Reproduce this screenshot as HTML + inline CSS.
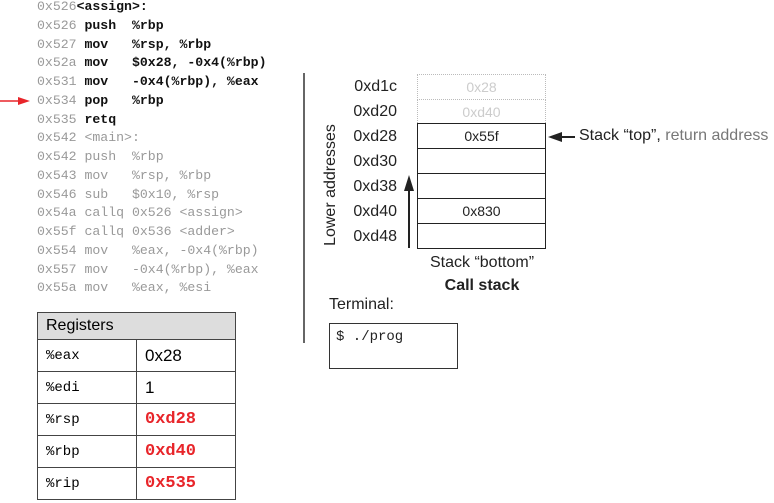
<!DOCTYPE html>
<html><head><meta charset="utf-8"><style>
body{margin:0;width:774px;height:503px;background:#fff;position:relative;overflow:hidden;font-family:"Liberation Sans",sans-serif}
.a{position:absolute;white-space:pre}
.code{font-family:"Liberation Mono",monospace;font-size:13.2px;color:#999;left:37px;line-height:18.75px;top:-2px}
.code b{color:#111}
.addr{position:absolute;right:377px;font-size:16px;color:#222;width:80px;text-align:right}
.cell{position:absolute;left:417px;width:129px;border:1px solid #222;box-sizing:border-box;height:26px;text-align:center;font-size:14px;line-height:24px;color:#222}
table{position:absolute;left:37px;top:312px;border-collapse:collapse;width:199px}
td{border:1px solid #444;height:31px;font-size:14px;padding:0 0 0 8px;font-family:"Liberation Mono",monospace}
.r{color:#e8252a;font-weight:bold;font-size:17px}
</style></head><body>
<div class="a code">0x526<b>&lt;assign&gt;:</b>
0x526 <b>push  %rbp</b>
0x527 <b>mov   %rsp, %rbp</b>
0x52a <b>mov   $0x28, -0x4(%rbp)</b>
0x531 <b>mov   -0x4(%rbp), %eax</b>
0x534 <b>pop   %rbp</b>
0x535 <b>retq</b>
0x542 &lt;main&gt;:
0x542 push  %rbp
0x543 mov   %rsp, %rbp
0x546 sub   $0x10, %rsp
0x54a callq 0x526 &lt;assign&gt;
0x55f callq 0x536 &lt;adder&gt;
0x554 mov   %eax, -0x4(%rbp)
0x557 mov   -0x4(%rbp), %eax
0x55a mov   %eax, %esi</div>
<svg class="a" style="left:0;top:0" width="774" height="503">
<line x1="0" y1="101" x2="20" y2="101" stroke="#e8252a" stroke-width="1.5"/>
<polygon points="30,101 18,97 18,105" fill="#e8252a"/>
<line x1="304" y1="73" x2="304" y2="343" stroke="#333" stroke-width="1.5"/>
<line x1="409" y1="248" x2="409" y2="190" stroke="#222" stroke-width="2"/>
<polygon points="409,175 404,191 414,191" fill="#222"/>
<line x1="575" y1="137" x2="560" y2="137" stroke="#222" stroke-width="2"/>
<polygon points="548,137 562,132 562,142" fill="#222"/>
<rect x="329.5" y="323.5" width="128" height="45" fill="none" stroke="#333"/>
</svg>
<div class="a" style="left:331px;top:185px;transform:translate(-50%,-50%) rotate(-90deg);font-size:16px;color:#222">Lower addresses</div>
<div class="addr" style="top:78px">0xd1c</div>
<div class="addr" style="top:103px">0xd20</div>
<div class="addr" style="top:128px">0xd28</div>
<div class="addr" style="top:153px">0xd30</div>
<div class="addr" style="top:178px">0xd38</div>
<div class="addr" style="top:203px">0xd40</div>
<div class="addr" style="top:228px">0xd48</div>
<div class="cell" style="top:74px;border:1px dotted #bbb;color:#ccc">0x28</div>
<div class="cell" style="top:99px;border:1px dotted #bbb;border-bottom:none;color:#ccc">0xd40</div>
<div class="cell" style="top:123px">0x55f</div>
<div class="cell" style="top:148px"></div>
<div class="cell" style="top:173px"></div>
<div class="cell" style="top:198px">0x830</div>
<div class="cell" style="top:223px"></div>
<div class="a" style="left:579px;top:127px;font-size:16px;color:#222">Stack “top”, <span style="color:#777">return address</span></div>
<div class="a" style="left:482px;top:254px;transform:translateX(-50%);font-size:16px;color:#222">Stack “bottom”</div>
<div class="a" style="left:482px;top:277px;transform:translateX(-50%);font-size:16px;font-weight:bold;color:#222">Call stack</div>
<div class="a" style="left:329px;top:296px;font-size:16px;color:#222">Terminal:</div>
<div class="a" style="left:336px;top:329px;font-family:'Liberation Mono',monospace;font-size:14px;color:#222">$ ./prog</div>
<table>
<tr><td colspan="2" style="background:#ddd;font-family:'Liberation Sans',sans-serif;font-size:16px;height:26px">Registers</td></tr>
<tr><td style="width:90px">%eax</td><td style="font-family:'Liberation Sans',sans-serif;font-size:17px">0x28</td></tr>
<tr><td>%edi</td><td style="font-family:'Liberation Sans',sans-serif;font-size:17px">1</td></tr>
<tr><td>%rsp</td><td class="r">0xd28</td></tr>
<tr><td>%rbp</td><td class="r">0xd40</td></tr>
<tr><td>%rip</td><td class="r">0x535</td></tr>
</table>
</body></html>
